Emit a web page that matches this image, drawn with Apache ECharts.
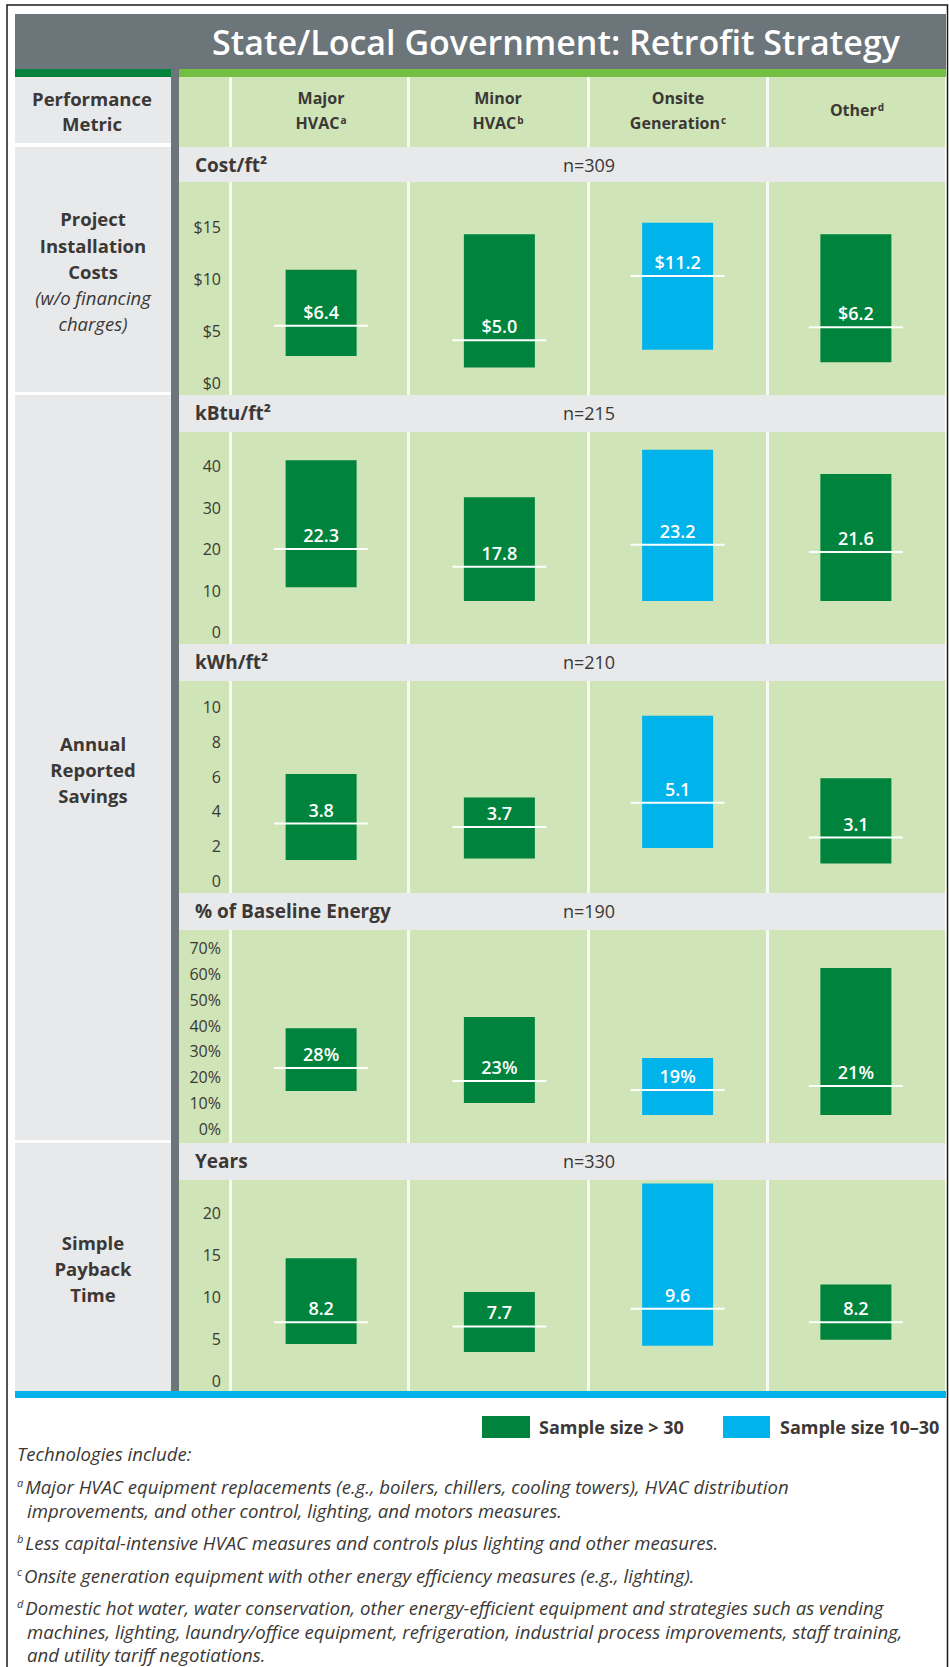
<!DOCTYPE html>
<html><head><meta charset="utf-8">
<script src="https://cdn.jsdelivr.net/npm/echarts@6/dist/echarts.min.js"></script>
<style>html,body{margin:0;padding:0;background:#fff}#c{width:949px;height:1667px}</style>
</head><body><div id="c"></div>
<script>
// ---------- data ----------
const categories = ['Major HVAC', 'Minor HVAC', 'Onsite Generation', 'Other'];
const sampleGroup = ['>30', '>30', '10-30', '>30'];

const costLow = [2.6, 1.5, 3.2, 2.0];
const costHigh = [10.9, 14.3, 15.4, 14.3];
const costMid = [5.5, 4.1, 10.3, 5.35];
const costLabels = ['$6.4', '$5.0', '$11.2', '$6.2'];

const kbtuLow = [10.8, 7.5, 7.5, 7.5];
const kbtuHigh = [41.4, 32.5, 43.9, 38.1];
const kbtuMid = [20.0, 15.7, 21.0, 19.3];
const kbtuLabels = ['22.3', '17.8', '23.2', '21.6'];

const kwhLow = [1.2, 1.3, 1.9, 1.0];
const kwhHigh = [6.15, 4.8, 9.5, 5.9];
const kwhMid = [3.3, 3.1, 4.5, 2.5];
const kwhLabels = ['3.8', '3.7', '5.1', '3.1'];

const pctLow = [14.7, 10.1, 5.4, 5.4];
const pctHigh = [39, 43.3, 27.5, 62.3];
const pctMid = [23.6, 18.6, 15.1, 16.6];
const pctLabels = ['28%', '23%', '19%', '21%'];

const yrsLow = [4.4, 3.45, 4.2, 4.9];
const yrsHigh = [14.6, 10.6, 23.5, 11.5];
const yrsMid = [7.0, 6.5, 8.6, 7.0];
const yrsLabels = ['8.2', '7.7', '9.6', '8.2'];

const units = ['Cost/ft²', 'kBtu/ft²', 'kWh/ft²', '% of Baseline Energy', 'Years'];
const sampleN = ['n=309', 'n=215', 'n=210', 'n=190', 'n=330'];
const axisMax = [15, 40, 10, 70, 20];
const axisInterval = [5, 10, 2, 10, 5];
const tickFormats = ['${value}', '{value}', '{value}', '{value}%', '{value}'];

const title = 'State/Local Government: Retrofit Strategy';
const legendLabels = ['Sample size > 30', 'Sample size 10–30'];

// ---------- style / layout ----------
const GREEN = '#00843d', BLUE = '#00b3ea', LIGHT = '#cfe4b7', GRAY = '#e8e9eb',
      SLATE = '#6b757a', TXT = '#3b3835', LGREEN = '#72bf44';
const FONT = '"Open Sans", "Noto Sans", sans-serif';
const PLOT_L = 232, PLOT_R = 945;
const layout = [
  {hTop: 147, pBot: 392, yTop: 227, y0: 383},
  {hTop: 395, pBot: 642, yTop: 466, y0: 632},
  {hTop: 644, pBot: 891, yTop: 707, y0: 881},
  {hTop: 893, pBot: 1140, yTop: 948, y0: 1129},
  {hTop: 1143, pBot: 1391, yTop: 1213, y0: 1381}
];
const sections = [
  {low: costLow, high: costHigh, mid: costMid, labels: costLabels},
  {low: kbtuLow, high: kbtuHigh, mid: kbtuMid, labels: kbtuLabels},
  {low: kwhLow, high: kwhHigh, mid: kwhMid, labels: kwhLabels},
  {low: pctLow, high: pctHigh, mid: pctMid, labels: pctLabels},
  {low: yrsLow, high: yrsHigh, mid: yrsMid, labels: yrsLabels}
];

const grids = [], xAxes = [], yAxes = [], series = [];
sections.forEach((s, i) => {
  const L = layout[i];
  grids.push({left: PLOT_L, width: PLOT_R - PLOT_L, top: L.yTop, height: L.y0 - L.yTop});
  xAxes.push({type: 'category', gridIndex: i, data: categories, boundaryGap: true,
    axisLine: {show: false}, axisTick: {show: false}, axisLabel: {show: false}, splitLine: {show: false}});
  yAxes.push({type: 'value', gridIndex: i, min: 0, max: axisMax[i], interval: axisInterval[i],
    axisLine: {show: false}, axisTick: {show: false}, splitLine: {show: false},
    axisLabel: {formatter: tickFormats[i], color: TXT, fontSize: 16, fontFamily: FONT, margin: 11}});
  series.push({
    type: 'custom', xAxisIndex: i, yAxisIndex: i, z: 5, clip: false,
    data: categories.map((c, j) => [j, s.low[j], s.high[j], s.mid[j]]),
    encode: {x: 0, y: [1, 2, 3]},
    renderItem: (params, api) => {
      const j = api.value(0);
      const pLow = api.coord([j, api.value(1)]);
      const pHigh = api.coord([j, api.value(2)]);
      const pMid = api.coord([j, api.value(3)]);
      const color = sampleGroup[j] === '10-30' ? BLUE : GREEN;
      return {type: 'group', children: [
        {type: 'rect', shape: {x: pLow[0] - 35.5, y: pHigh[1], width: 71, height: pLow[1] - pHigh[1]}, style: {fill: color}},
        {type: 'line', shape: {x1: pMid[0] - 47, y1: pMid[1], x2: pMid[0] + 47, y2: pMid[1]}, style: {stroke: '#ffffff', lineWidth: 2}},
        {type: 'text', x: pMid[0], y: pMid[1] - 14, style: {text: s.labels[j], fill: '#ffffff',
          fontSize: 18, fontWeight: 600, fontFamily: FONT, align: 'center', verticalAlign: 'middle'}}
      ]};
    }
  });
});

// ---------- table decoration ----------
const g = [];
const rect = (x, y, w, h, fill, z) => g.push({type: 'rect', z: z || -10, silent: true, shape: {x, y, width: w, height: h}, style: {fill}});
const text = (x, y, t, opt) => g.push({type: 'text', z: 50, silent: true, x, y, style: Object.assign({text: t, fill: TXT, fontSize: 16,
  fontFamily: FONT, align: 'center', verticalAlign: 'middle'}, opt || {})});

rect(15, 14, 931, 55, SLATE);
text(556, 42, title, {fill: '#ffffff', fontSize: 34, fontWeight: 600});
rect(15, 69, 156, 8, GREEN);
rect(179, 69, 767, 8, LGREEN);
rect(171, 69, 8, 1322, SLATE, -5);
// left column cells
rect(15, 77, 156, 66, GRAY);
rect(15, 147, 156, 245, GRAY);
rect(15, 395, 156, 745, GRAY);
rect(15, 1143, 156, 248, GRAY);
// right area background
rect(179, 77, PLOT_R - 179, 1314, LIGHT, -9);
[229, 407, 587, 766].forEach(x => rect(x, 77, 3, 1314, '#f7faf3', -8));
layout.forEach((L, i) => {
  rect(179, L.hTop, PLOT_R - 179, 35 + (i === 0 ? 0 : 2), GRAY, -7);
  text(195, L.hTop + 18, units[i], {align: 'left', fontWeight: 'bold', fontSize: 19});
  text(589, L.hTop + 18, sampleN[i], {fontSize: 18});
});
rect(15, 1391, 931, 7, BLUE, -4);

// header row
const LBL = {fontWeight: 'bold', fontSize: 18.5};
text(92, 98, 'Performance', LBL);
text(92, 123, 'Metric', LBL);
const colX = [321, 498, 678, 857];
const headTop = ['Major', 'Minor', 'Onsite', ''];
const headBot = ['HVAC', 'HVAC', 'Generation', 'Other'];
const sup = ['a', 'b', 'c', 'd'];
colX.forEach((x, j) => {
  const rich = {r: {fontSize: 16, fontWeight: 'bold', fontFamily: FONT, color: TXT},
                s: {fontSize: 10, fontWeight: 'bold', fontFamily: FONT, color: TXT, verticalAlign: 'top', padding: [0, 0, 6, 1]}};
  if (headTop[j]) {
    text(x, 98, headTop[j], {fontWeight: 'bold'});
    text(x, 123, '{r|' + headBot[j] + '}{s|' + sup[j] + '}', {rich});
  } else {
    text(x, 110, '{r|' + headBot[j] + '}{s|' + sup[j] + '}', {rich});
  }
});

// left labels
[['Project', 218], ['Installation', 245], ['Costs', 271]].forEach(([t, y]) => text(93, y, t, LBL));
[['(w/o financing', 297], ['charges)', 323]].forEach(([t, y]) => text(93, y, t, {fontStyle: 'italic', fontSize: 18.5}));
[['Annual', 743], ['Reported', 769], ['Savings', 795]].forEach(([t, y]) => text(93, y, t, LBL));
[['Simple', 1242], ['Payback', 1268], ['Time', 1294]].forEach(([t, y]) => text(93, y, t, LBL));

// legend
rect(482, 1416, 48, 22, GREEN, 10);
text(539, 1427, legendLabels[0], {align: 'left', fontWeight: 'bold', fontSize: 18});
rect(723, 1416, 47, 22, BLUE, 10);
text(780, 1427, legendLabels[1], {align: 'left', fontWeight: 'bold', fontSize: 18});

// footnotes
const FS = 18.6;
const FN = {align: 'left', fontStyle: 'italic', fontSize: FS};
text(17, 1453, 'Technologies include:', FN);
const fnRich = {t: {fontSize: FS, fontStyle: 'italic', fontFamily: FONT, color: TXT},
                s: {fontSize: 11, fontStyle: 'italic', fontFamily: FONT, color: TXT, verticalAlign: 'top', padding: [0, 2, 8, 0]}};
const footnotes = [
  ['a', 'Major HVAC equipment replacements (e.g., boilers, chillers, cooling towers), HVAC distribution', 1486],
  ['', 'improvements, and other control, lighting, and motors measures.', 1510],
  ['b', 'Less capital-intensive HVAC measures and controls plus lighting and other measures.', 1542],
  ['c', 'Onsite generation equipment with other energy efficiency measures (e.g., lighting).', 1575],
  ['d', 'Domestic hot water, water conservation, other energy-efficient equipment and strategies such as vending', 1607],
  ['', 'machines, lighting, laundry/office equipment, refrigeration, industrial process improvements, staff training,', 1631],
  ['', 'and utility tariff negotiations.', 1654]
];
footnotes.forEach(([s, t, y]) => {
  if (s) text(17, y, '{s|' + s + '}{t|' + t + '}', {align: 'left', rich: fnRich});
  else text(27, y, t, FN);
});

// outer border
g.push({type: 'rect', z: 60, silent: true, shape: {x: 7, y: 5, width: 940.5, height: 1680}, style: {fill: 'none', stroke: '#1a1a1a', lineWidth: 1.5}});

const chart = echarts.init(document.getElementById('c'), null, {renderer: 'svg', width: 949, height: 1667});
chart.setOption({
  animation: false,
  backgroundColor: '#ffffff',
  grid: grids, xAxis: xAxes, yAxis: yAxes, series,
  graphic: {elements: g}
});
</script>
</body></html>
